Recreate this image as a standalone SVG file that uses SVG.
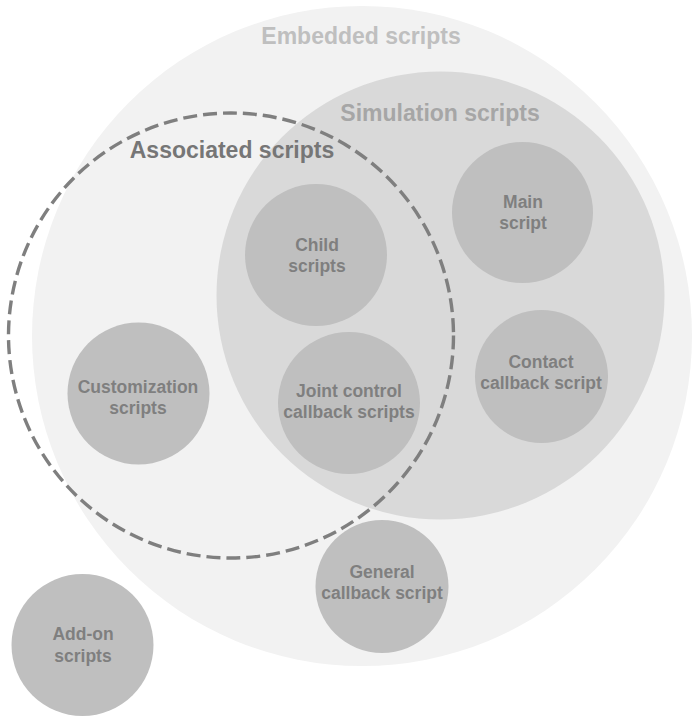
<svg xmlns="http://www.w3.org/2000/svg" width="698" height="722" viewBox="0 0 698 722">
  <style>
    .set-title { font-family: "Liberation Sans", Arial, sans-serif; font-weight: bold; font-size: 23px; text-anchor: middle; }
    .node-shape { fill: #bfbfbf; }
    .node-label { font-family: "Liberation Sans", Arial, sans-serif; font-weight: bold; font-size: 17.5px; fill: #7f7f7f; text-anchor: middle; }
  </style>
  <rect width="698" height="722" fill="#ffffff"/>

  <!-- Outer set: all embedded scripts -->
  <g id="embedded-scripts">
    <circle cx="362" cy="336" r="330" fill="#f2f2f2"/>
    <text class="set-title" x="361" y="44" fill="#bfbfbf">Embedded scripts</text>
  </g>

  <!-- Inner set: simulation scripts -->
  <g id="simulation-scripts">
    <circle cx="440.5" cy="295.5" r="224" fill="#d9d9d9"/>
    <text class="set-title" x="440" y="121" fill="#a6a6a6">Simulation scripts</text>
  </g>

  <!-- Dashed set: associated scripts -->
  <g id="associated-scripts">
    <circle cx="231" cy="335.5" r="222.5" fill="none" stroke="#7f7f7f" stroke-width="3.4" stroke-dasharray="14 6"/>
    <text class="set-title" x="232" y="158" fill="#767676">Associated scripts</text>
  </g>

  <g id="main-script">
    <circle class="node-shape" cx="522.5" cy="212.5" r="70.5"/>
    <text class="node-label" x="523" y="208">Main</text>
    <text class="node-label" x="523" y="229">script</text>
  </g>

  <g id="child-scripts">
    <circle class="node-shape" cx="316" cy="255" r="71"/>
    <text class="node-label" x="317" y="251">Child</text>
    <text class="node-label" x="317" y="272">scripts</text>
  </g>

  <g id="contact-callback-script">
    <circle class="node-shape" cx="541.5" cy="376.5" r="66.5"/>
    <text class="node-label" x="541" y="368">Contact</text>
    <text class="node-label" x="541" y="389">callback script</text>
  </g>

  <g id="customization-scripts">
    <circle class="node-shape" cx="138.5" cy="393.5" r="71"/>
    <text class="node-label" x="138" y="393">Customization</text>
    <text class="node-label" x="138" y="414">scripts</text>
  </g>

  <g id="joint-control-callback-scripts">
    <circle class="node-shape" cx="349" cy="403" r="71"/>
    <text class="node-label" x="349" y="397">Joint control</text>
    <text class="node-label" x="349" y="418">callback scripts</text>
  </g>

  <g id="general-callback-script">
    <circle class="node-shape" cx="382" cy="586.5" r="66.5"/>
    <text class="node-label" x="382" y="578">General</text>
    <text class="node-label" x="382" y="599">callback script</text>
  </g>

  <g id="add-on-scripts">
    <circle class="node-shape" cx="82.5" cy="645" r="71"/>
    <text class="node-label" x="83" y="640">Add-on</text>
    <text class="node-label" x="83" y="662">scripts</text>
  </g>
</svg>
